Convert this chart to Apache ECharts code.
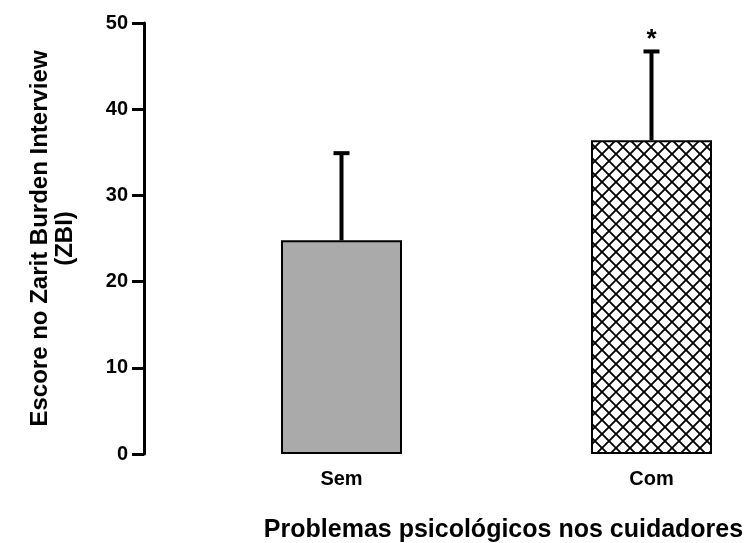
<!DOCTYPE html>
<html>
<head>
<meta charset="utf-8">
<script src="https://cdn.jsdelivr.net/npm/echarts@6/dist/echarts.min.js"></script>
<style>html,body{margin:0;padding:0;background:#fff}#c{width:753px;height:543px}</style>
</head>
<body>
<div id="c"></div>
<script>
var categories = ['Sem', 'Com'];
var means = [24.8, 36.4];
var sdUpper = [10.1, 10.3];
var marks = ['', '*'];
var yTicks = [0, 10, 20, 30, 40, 50];
var yTitle = 'Escore no Zarit Burden Interview\n(ZBI)';
var xTitle = 'Problemas psicológicos nos cuidadores';

function hatch() {
  var s = 14, cv = document.createElement('canvas');
  cv.width = s; cv.height = s;
  var g = cv.getContext('2d');
  g.fillStyle = '#fff'; g.fillRect(0, 0, s, s);
  g.strokeStyle = '#000'; g.lineWidth = 1.9;
  g.beginPath();
  g.moveTo(-2, -2); g.lineTo(s + 2, s + 2);
  g.moveTo(s + 2, -2); g.lineTo(-2, s + 2);
  g.stroke();
  return cv;
}

var font = 'Liberation Sans, Arial, sans-serif';
var chart = echarts.init(document.getElementById('c'));
chart.setOption({
  animation: false,
  backgroundColor: '#fff',
  grid: { left: 186.5, width: 620, top: 23, bottom: 89, outerBoundsMode: 'none', containLabel: false },
  xAxis: {
    type: 'category',
    data: categories,
    axisLine: { show: false },
    axisTick: { show: false },
    axisLabel: { color: '#000', fontFamily: font, fontWeight: 'bold', fontSize: 20, margin: 15 },
    name: xTitle,
    nameLocation: 'middle',
    nameGap: 64,
    nameTextStyle: { color: '#000', fontFamily: font, fontWeight: 'bold', fontSize: 25, padding: [0, 0, 0, 14] }
  },
  yAxis: {
    type: 'value',
    min: yTicks[0], max: yTicks[yTicks.length - 1], interval: 10,
    offset: 42.5,
    splitLine: { show: false },
    axisLine: { show: true, lineStyle: { color: '#000', width: 3 } },
    axisTick: { show: true, length: 12, lineStyle: { color: '#000', width: 3 } },
    axisLabel: { color: '#000', fontFamily: font, fontWeight: 'bold', fontSize: 20, margin: 16 },
    name: yTitle,
    nameLocation: 'middle',
    nameGap: 66,
    nameTextStyle: { color: '#000', fontFamily: font, fontWeight: 'bold', fontSize: 24, lineHeight: 25, align: 'center' }
  },
  series: [
    {
      type: 'bar',
      barWidth: 121,
      data: means.map(function (v, i) {
        return {
          value: v,
          itemStyle: i === 0
            ? { color: '#aaaaaa', borderColor: '#000', borderWidth: 2 }
            : { color: { image: hatch(), repeat: 'repeat' }, borderColor: '#000', borderWidth: 2 }
        };
      })
    },
    {
      type: 'custom',
      z: 5,
      data: means.map(function (v, i) { return [i, v, v + sdUpper[i], marks[i]]; }),
      renderItem: function (params, api) {
        var x = api.value(0);
        var p0 = api.coord([x, api.value(1)]);
        var p1 = api.coord([x, api.value(2)]);
        var mark = marks[params.dataIndex];
        var children = [
          { type: 'line', shape: { x1: p0[0], y1: p0[1], x2: p1[0], y2: p1[1] }, style: { stroke: '#000', lineWidth: 4 } },
          { type: 'line', shape: { x1: p1[0] - 8, y1: p1[1], x2: p1[0] + 8, y2: p1[1] }, style: { stroke: '#000', lineWidth: 4 } }
        ];
        if (mark) {
          children.push({ type: 'text', x: p1[0], y: p1[1] + 1, style: { text: mark, fill: '#000', font: 'bold 26px ' + font, textAlign: 'center', textVerticalAlign: 'bottom' } });
        }
        return { type: 'group', children: children };
      }
    }
  ]
});
</script>
</body>
</html>
